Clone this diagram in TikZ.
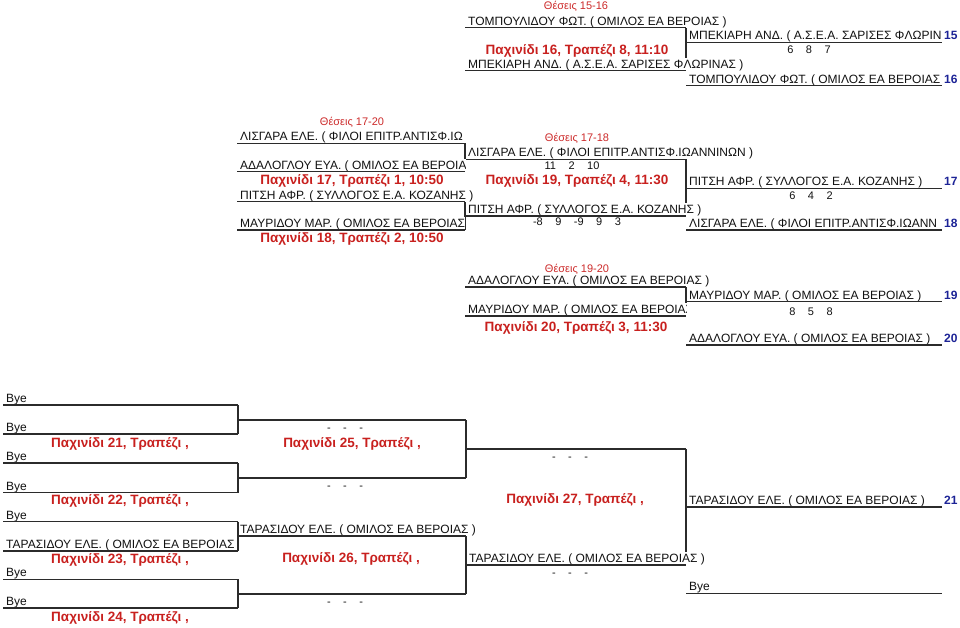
\documentclass[tikz,border=0pt]{standalone}
\usepackage{fontspec}
\setmainfont{Liberation Sans}
\usetikzlibrary{backgrounds}
\definecolor{matchred}{HTML}{C8201E}
\definecolor{titlered}{HTML}{CC2A2A}
\definecolor{rankblue}{HTML}{1C2396}
\definecolor{ink}{HTML}{111111}
\definecolor{linegray}{HTML}{2B2B2B}
\newcommand{\scoreFont}{\fontsize{11}{13}\selectfont\spaceskip=12.5pt\relax}
\tikzset{
  name cell/.style={
    anchor=base west,
    inner sep=0pt,
    fill=white,
    text height=10.5pt,
    text depth=2.5pt,
    font=\fontsize{12}{14}\selectfont,
    text=ink
  },
  link/.style={draw=linegray,line width=1.3pt},
  match label/.style={anchor=base,inner sep=0pt,
    font=\bfseries\fontsize{13.5}{16}\selectfont,text=matchred},
  places title/.style={anchor=base,inner sep=0pt,
    font=\fontsize{11}{13}\selectfont,text=titlered},
  rank/.style={anchor=base west,inner sep=0pt,
    font=\bfseries\fontsize{12}{14}\selectfont,text=rankblue},
  score/.style={anchor=base,inner sep=0pt,font=\scoreFont,text=ink}
}
% one player cell: name, left x, right x, line y, text
\newcommand{\nameCell}[5]{%
  \coordinate (#1-l) at (#2,#4);
  \coordinate (#1-r) at (#3,#4);
  \node[name cell] (#1) at (#2+3,#4-2.5) {#5};
  \draw[link] (#1-l) -- (#1-r);
}
% same, with the text cut at x = #6
\newcommand{\cutCell}[6]{%
  \coordinate (#1-l) at (#2,#4);
  \coordinate (#1-r) at (#3,#4);
  \begin{scope}
    \clip (#2,#4-14) rectangle (#6,#4);
    \node[name cell] (#1) at (#2+3,#4-2.5) {#5};
  \end{scope}
  \draw[link] (#1-l) -- (#1-r);
}

\begin{document}
\begin{tikzpicture}[x=1pt,y=-1pt]
  \useasboundingbox (0,0) rectangle (960,628);

  % places 15-16
  \nameCell{a1}{465}{686}{27.7}{ΤΟΜΠΟΥΛΙΔΟΥ ΦΩΤ. ( ΟΜΙΛΟΣ ΕΑ ΒΕΡΟΙΑΣ )}
  \nameCell{a2}{465}{686}{70.7}{ΜΠΕΚΙΑΡΗ ΑΝΔ. ( Α.Σ.Ε.Α. ΣΑΡΙΣΕΣ ΦΛΩΡΙΝΑΣ )}
  \cutCell{a15}{686}{942}{42.3}{ΜΠΕΚΙΑΡΗ ΑΝΔ. ( Α.Σ.Ε.Α. ΣΑΡΙΣΕΣ ΦΛΩΡΙΝ}{942}
  \cutCell{a16}{686}{942}{85.7}{ΤΟΜΠΟΥΛΙΔΟΥ ΦΩΤ. ( ΟΜΙΛΟΣ ΕΑ ΒΕΡΟΙΑΣ}{942}

  % places 17-20
  \cutCell{b1}{237}{465}{143.3}{ΛΙΣΓΑΡΑ ΕΛΕ. ( ΦΙΛΟΙ ΕΠΙΤΡ.ΑΝΤΙΣΦ.ΙΩ}{465.8}
  \nameCell{c1}{465}{686}{159.3}{ΛΙΣΓΑΡΑ ΕΛΕ. ( ΦΙΛΟΙ ΕΠΙΤΡ.ΑΝΤΙΣΦ.ΙΩΑΝΝΙΝΩΝ )}
  \cutCell{b2}{237}{465}{171.7}{ΑΔΑΛΟΓΛΟΥ ΕΥΑ. ( ΟΜΙΛΟΣ ΕΑ ΒΕΡΟΙΑ}{465.8}
  \nameCell{b3}{237}{465}{201.7}{ΠΙΤΣΗ ΑΦΡ. ( ΣΥΛΛΟΓΟΣ Ε.Α. ΚΟΖΑΝΗΣ )}
  \nameCell{c2}{465}{686}{216}{ΠΙΤΣΗ ΑΦΡ. ( ΣΥΛΛΟΓΟΣ Ε.Α. ΚΟΖΑΝΗΣ )}
  \cutCell{b4}{237}{465}{230}{ΜΑΥΡΙΔΟΥ ΜΑΡ. ( ΟΜΙΛΟΣ ΕΑ ΒΕΡΟΙΑΣ}{465.8}
  \nameCell{c17}{686}{942}{188.3}{ΠΙΤΣΗ ΑΦΡ. ( ΣΥΛΛΟΓΟΣ Ε.Α. ΚΟΖΑΝΗΣ )}
  \cutCell{c18}{686}{942}{230}{ΛΙΣΓΑΡΑ ΕΛΕ. ( ΦΙΛΟΙ ΕΠΙΤΡ.ΑΝΤΙΣΦ.ΙΩΑΝΝ}{942}

  % places 19-20
  \nameCell{d1}{465}{686}{287}{ΑΔΑΛΟΓΛΟΥ ΕΥΑ. ( ΟΜΙΛΟΣ ΕΑ ΒΕΡΟΙΑΣ )}
  \cutCell{d2}{465}{686}{316}{ΜΑΥΡΙΔΟΥ ΜΑΡ. ( ΟΜΙΛΟΣ ΕΑ ΒΕΡΟΙΑΣ}{686.8}
  \nameCell{d19}{686}{942}{301.7}{ΜΑΥΡΙΔΟΥ ΜΑΡ. ( ΟΜΙΛΟΣ ΕΑ ΒΕΡΟΙΑΣ )}
  \nameCell{d20}{686}{942}{345}{ΑΔΑΛΟΓΛΟΥ ΕΥΑ. ( ΟΜΙΛΟΣ ΕΑ ΒΕΡΟΙΑΣ )}

  % places 21+
  \nameCell{e1}{3}{238}{405}{Bye}
  \nameCell{e2}{3}{238}{434}{Bye}
  \nameCell{e3}{3}{238}{463}{Bye}
  \nameCell{e4}{3}{238}{492.7}{Bye}
  \nameCell{e5}{3}{238}{521.7}{Bye}
  \cutCell{e6}{3}{238}{551}{ΤΑΡΑΣΙΔΟΥ ΕΛΕ. ( ΟΜΙΛΟΣ ΕΑ ΒΕΡΟΙΑΣ}{236}
  \nameCell{e7}{3}{238}{579.3}{Bye}
  \nameCell{e8}{3}{238}{608}{Bye}
  \nameCell{f1}{237}{466}{420}{}
  \nameCell{f2}{237}{466}{478}{}
  \nameCell{f3}{237}{466}{536}{ΤΑΡΑΣΙΔΟΥ ΕΛΕ. ( ΟΜΙΛΟΣ ΕΑ ΒΕΡΟΙΑΣ )}
  \nameCell{f4}{237}{466}{594}{}
  \nameCell{g1}{466}{686}{449}{}
  \nameCell{g2}{466}{686}{565}{ΤΑΡΑΣΙΔΟΥ ΕΛΕ. ( ΟΜΙΛΟΣ ΕΑ ΒΕΡΟΙΑΣ )}
  \nameCell{g21}{686}{942}{507}{ΤΑΡΑΣΙΔΟΥ ΕΛΕ. ( ΟΜΙΛΟΣ ΕΑ ΒΕΡΟΙΑΣ )}
  \nameCell{gbye}{686}{942}{593.3}{Bye}

  \begin{scope}[on background layer]
    \draw[link] (a1-r) -- (a2-r);
    \draw[link] (b1-r) -- (b2-r);
    \draw[link] (b3-r) -- (b4-r);
    \draw[link] (c1-r) -- (c2-r);
    \draw[link] (d1-r) -- (d2-r);
    \draw[link] (e1-r) -- (e2-r);
    \draw[link] (e3-r) -- (e4-r);
    \draw[link] (e5-r) -- (e6-r);
    \draw[link] (e7-r) -- (e8-r);
    \draw[link] (f1-r) -- (f2-r);
    \draw[link] (f3-r) -- (f4-r);
    \draw[link] (g1-r) -- (g2-r);
  \end{scope}

  \node[places title] (t1516) at (576,10) {Θέσεις 15-16};
  \node[places title] (t1720) at (352,126) {Θέσεις 17-20};
  \node[places title] (t1718) at (577,142) {Θέσεις 17-18};
  \node[places title] (t1920) at (577,272) {Θέσεις 19-20};

  \node[match label] (m16) at (577,55) {Παχινίδι 16, Τραπέζι 8, 11:10};
  \node[match label] (m17) at (352,185) {Παχινίδι 17, Τραπέζι 1, 10:50};
  \node[match label] (m18) at (352,243) {Παχινίδι 18, Τραπέζι 2, 10:50};
  \node[match label] (m19) at (577,185) {Παχινίδι 19, Τραπέζι 4, 11:30};
  \node[match label] (m20) at (576,331) {Παχινίδι 20, Τραπέζι 3, 11:30};
  \node[match label] (m21) at (120,447) {Παχινίδι 21, Τραπέζι ,};
  \node[match label] (m22) at (120,504.5) {Παχινίδι 22, Τραπέζι ,};
  \node[match label] (m23) at (120,563) {Παχινίδι 23, Τραπέζι ,};
  \node[match label] (m24) at (120,621) {Παχινίδι 24, Τραπέζι ,};
  \node[match label] (m25) at (352,447) {Παχινίδι 25, Τραπέζι ,};
  \node[match label] (m26) at (351,562) {Παχινίδι 26, Τραπέζι ,};
  \node[match label] (m27) at (575,503.5) {Παχινίδι 27, Τραπέζι ,};

  \node[score] (s16) at (809,54) {6 8 7};
  \node[score] (s17) at (572,170) {11 2 10};
  \node[score] (s18) at (577,225.5) {-8 9 -9 9 3};
  \node[score] (s19) at (811,200) {6 4 2};
  \node[score] (s20) at (811,315) {8 5 8};
  \node[score] (s21) at (345,431.5) {- - -};
  \node[score] (s22) at (345,489.5) {- - -};
  \node[score] (s24) at (345,605.5) {- - -};
  \node[score] (s25) at (570,460.5) {- - -};
  \node[score] (s26) at (570,576.5) {- - -};

  \node[rank] (r15) at (944,39.8) {15};
  \node[rank] (r16) at (944,83.2) {16};
  \node[rank] (r17) at (944,185.8) {17};
  \node[rank] (r18) at (944,227.5) {18};
  \node[rank] (r19) at (944,299.2) {19};
  \node[rank] (r20) at (944,342.5) {20};
  \node[rank] (r21) at (944,504.5) {21};
\end{tikzpicture}
\end{document}
